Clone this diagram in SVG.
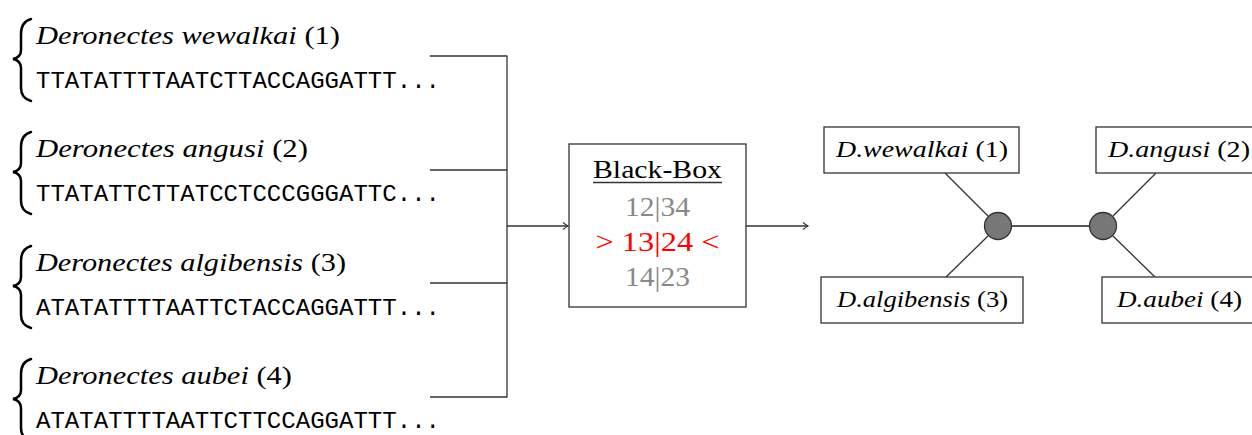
<svg xmlns="http://www.w3.org/2000/svg" width="1252" height="435" viewBox="0 0 1252 435">
<style>
.sp{font-family:"Liberation Serif",serif;font-size:25px;font-style:italic;fill:#000}
.up{font-style:normal}
.seq{font-family:"Liberation Mono",monospace;font-size:24px;fill:#000}
.brace{fill:none;stroke:#000;stroke-width:2.5;stroke-linecap:round}
.conn{fill:none;stroke:#333;stroke-width:1.3}
.box{fill:#fff;stroke:#333;stroke-width:1.3}
.bb{font-family:"Liberation Serif",serif;font-size:26px;text-anchor:middle}
.num{font-size:28px}
.lbl{font-family:"Liberation Serif",serif;font-size:24px;font-style:italic;fill:#000}
.circ{fill:#777;stroke:#333;stroke-width:1.3}
</style>
<defs>
<marker id="arr" markerWidth="10" markerHeight="10" refX="7" refY="5" orient="auto" markerUnits="userSpaceOnUse">
<path d="M2,1.5 Q5,4 7,5 Q5,6 2,8.5" fill="none" stroke="#333" stroke-width="1.1"/>
</marker>
</defs>

<g id="species1">
<path class="brace" d="M31,19 C24,21 21,26 21,34 L21,50 C21,55 18,58 13,59 C18,60 21,63 21,68 L21,88 C21,95 24,99 31,101"/>
<text class="sp" x="36" y="44" textLength="304" lengthAdjust="spacingAndGlyphs">Deronectes wewalkai <tspan class="up">(1)</tspan></text>
<text class="seq" x="36" y="88" textLength="404" lengthAdjust="spacingAndGlyphs">TTATATTTTAATCTTACCAGGATTT...</text>
</g>
<g id="species2">
<path class="brace" d="M31,132 C24,134 21,139 21,147 L21,163 C21,168 18,171 13,172 C18,173 21,176 21,181 L21,201 C21,208 24,212 31,214"/>
<text class="sp" x="36" y="157" textLength="272" lengthAdjust="spacingAndGlyphs">Deronectes angusi <tspan class="up">(2)</tspan></text>
<text class="seq" x="36" y="201" textLength="404" lengthAdjust="spacingAndGlyphs">TTATATTCTTATCCTCCCGGGATTC...</text>
</g>
<g id="species3">
<path class="brace" d="M31,246 C24,248 21,253 21,261 L21,277 C21,282 18,285 13,286 C18,287 21,290 21,295 L21,315 C21,322 24,326 31,328"/>
<text class="sp" x="36" y="271" textLength="310" lengthAdjust="spacingAndGlyphs">Deronectes algibensis <tspan class="up">(3)</tspan></text>
<text class="seq" x="36" y="315" textLength="404" lengthAdjust="spacingAndGlyphs">ATATATTTTAATTCTACCAGGATTT...</text>
</g>
<g id="species4">
<path class="brace" d="M31,359 C24,361 21,366 21,374 L21,390 C21,395 18,398 13,399 C18,400 21,403 21,408 L21,428 C21,435 24,439 31,441"/>
<text class="sp" x="36" y="384" textLength="256" lengthAdjust="spacingAndGlyphs">Deronectes aubei <tspan class="up">(4)</tspan></text>
<text class="seq" x="36" y="428" textLength="404" lengthAdjust="spacingAndGlyphs">ATATATTTTAATTCTTCCAGGATTT...</text>
</g>

<g id="connectors">
<path class="conn" d="M430,56 H507 M430,170 H507 M430,283 H507 M430,397 H507 M507,55.4 V397.6"/>
<line class="conn" x1="507" y1="226" x2="568" y2="226" marker-end="url(#arr)"/>
<line class="conn" x1="746" y1="226" x2="808" y2="226" marker-end="url(#arr)"/>
<line class="conn" x1="945" y1="173" x2="988" y2="216"/>
<line class="conn" x1="945" y1="278" x2="988" y2="236"/>
<line class="conn" x1="1156" y1="173" x2="1113" y2="216"/>
<line class="conn" x1="1156" y1="278" x2="1113" y2="236"/>
<line class="conn" x1="1011" y1="226" x2="1089" y2="226" style="stroke:#555;stroke-width:1.8"/>
</g>

<g id="blackbox">
<rect class="box" x="569" y="144" width="177" height="163"/>
<text class="bb" x="657.5" y="178" textLength="129" lengthAdjust="spacingAndGlyphs">Black-Box</text>
<line x1="593" y1="182.5" x2="722" y2="182.5" stroke="#333" stroke-width="1.5"/>
<text class="bb num" x="657.5" y="216" fill="#888" textLength="65" lengthAdjust="spacingAndGlyphs">12|34</text>
<text class="bb num" x="657.5" y="251" fill="#ff0000" textLength="124" lengthAdjust="spacingAndGlyphs">&gt; 13|24 &lt;</text>
<text class="bb num" x="657.5" y="286" fill="#888" textLength="65" lengthAdjust="spacingAndGlyphs">14|23</text>
</g>

<g id="tree-node-1">
<rect class="box" x="824" y="127" width="195" height="46"/>
<text class="lbl" x="836" y="157" textLength="172" lengthAdjust="spacingAndGlyphs">D.wewalkai <tspan class="up">(1)</tspan></text>
</g>
<g id="tree-node-2">
<rect class="box" x="1096" y="127" width="170" height="46"/>
<text class="lbl" x="1108" y="157" textLength="142" lengthAdjust="spacingAndGlyphs">D.angusi <tspan class="up">(2)</tspan></text>
</g>
<g id="tree-node-3">
<rect class="box" x="821" y="277" width="202" height="46"/>
<text class="lbl" x="837" y="307" textLength="171" lengthAdjust="spacingAndGlyphs">D.algibensis <tspan class="up">(3)</tspan></text>
</g>
<g id="tree-node-4">
<rect class="box" x="1102" y="277" width="160" height="46"/>
<text class="lbl" x="1117" y="307" textLength="125" lengthAdjust="spacingAndGlyphs">D.aubei <tspan class="up">(4)</tspan></text>
</g>
<g id="inner-node-a">
<circle class="circ" cx="998" cy="226" r="13.5"/>
</g>
<g id="inner-node-b">
<circle class="circ" cx="1103" cy="226" r="13.5"/>
</g>
</svg>
